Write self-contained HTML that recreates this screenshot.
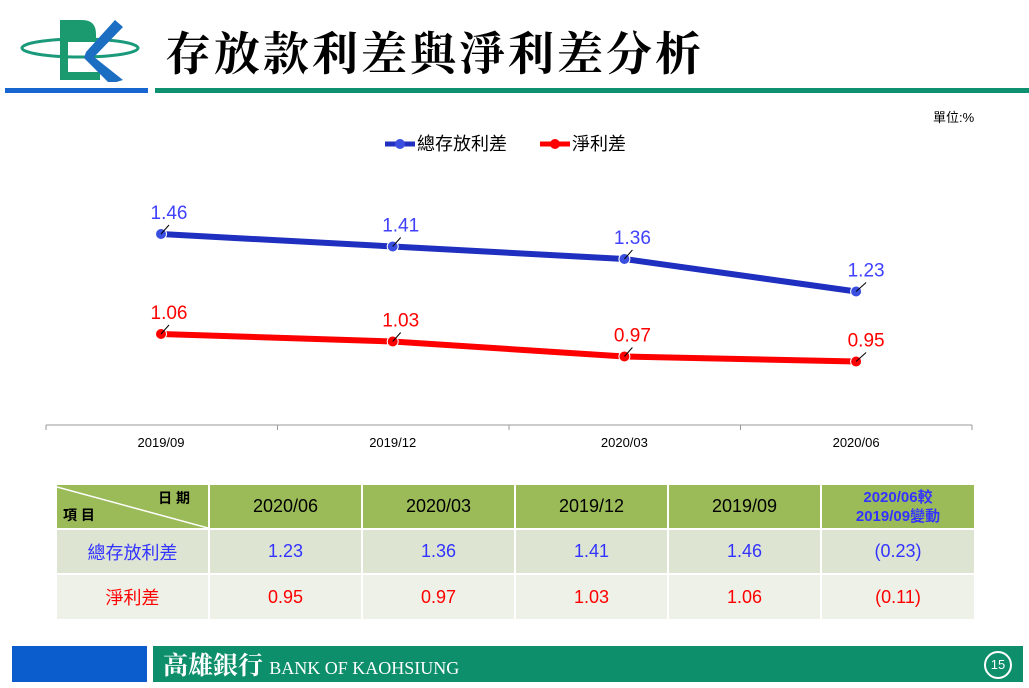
<!DOCTYPE html>
<html><head><meta charset="utf-8"><style>
body{margin:0;width:1029px;height:688px;background:#fff;position:relative;overflow:hidden;font-family:"Liberation Sans","Noto Sans CJK TC",sans-serif}
.abs{position:absolute}
table{position:absolute;left:55px;top:483px;border-collapse:separate;border-spacing:2px}
td{text-align:center;font-size:18px;padding:0}
.h td{background:#9bbb59;color:#000;height:43px}
.r1 td{background:#dde4d2;color:#3333ff;height:43px}
.r2 td{background:#eef1e8;color:#ff0000;height:44px}
</style></head><body>
<div class="abs" style="left:10px;top:12px;width:140px;height:70px">
<svg width="140" height="70"><ellipse cx="70" cy="36" rx="58" ry="9" fill="none" stroke="#1a9a7a" stroke-width="3"/><path d="M50 8 h22 q14 0 14 14 v8 h-28 v25 h-8z" fill="#1a9a6e"/><rect x="50" y="8" width="8" height="60" fill="#1a9a6e"/><rect x="50" y="60" width="40" height="8" fill="#1a9a6e"/><path d="M76 40 L105 8 L113 15 L84 45 L113 68 L100 72 L74 46z" fill="#1b6ec2"/></svg></div>
<div class="abs" style="left:165px;top:18px;font-size:46px;font-family:'Noto Serif CJK SC','Noto Sans CJK TC',serif;font-weight:bold;letter-spacing:3px">存放款利差與淨利差分析</div>
<div class="abs" style="left:5px;top:88px;width:143px;height:5px;background:#1766d0"></div>
<div class="abs" style="left:155px;top:88px;width:874px;height:5px;background:#0f9070"></div>
<div class="abs" style="left:933px;top:107px;font-size:13px">單位:%</div>
<svg class="abs" style="left:0;top:0" width="1029" height="480" id="chart"></svg>
<table>
<tr class="h"><td style="width:151px;position:relative;font-size:14px;font-weight:bold"><svg class="abs" style="left:0;top:0" width="151" height="43"><line x1="0" y1="2" x2="151" y2="43" stroke="#fff" stroke-width="1.5"/></svg><span class="abs" style="right:18px;top:3px">日 期</span><span class="abs" style="left:6px;bottom:3px">項 目</span></td><td style="width:151px">2020/06</td><td style="width:151px">2020/03</td><td style="width:151px">2019/12</td><td style="width:151px">2019/09</td><td style="width:152px;color:#3333ff;font-weight:bold;font-size:15px;line-height:19px">2020/06較<br>2019/09變動</td></tr>
<tr class="r1"><td>總存放利差</td><td>1.23</td><td>1.36</td><td>1.41</td><td>1.46</td><td>(0.23)</td></tr>
<tr class="r2"><td>淨利差</td><td>0.95</td><td>0.97</td><td>1.03</td><td>1.06</td><td>(0.11)</td></tr>
</table>
<div class="abs" style="left:12px;top:646px;width:135px;height:36px;background:#0b5ccc"></div>
<div class="abs" style="left:153px;top:646px;width:870px;height:36px;background:#0d8f6c"></div>
<div class="abs" style="left:163px;top:648px;color:#fff;font-size:25px;line-height:32px;font-family:'Noto Serif CJK SC',serif;font-weight:bold">高雄銀行 <span style="font-family:'Liberation Serif',serif;font-weight:normal;font-size:18px">BANK OF KAOHSIUNG</span></div>
<div class="abs" style="left:984px;top:651px;width:24px;height:24px;border:2px solid #fff;border-radius:50%;color:#fff;font-size:13px;text-align:center;line-height:24px">15</div>
<script>
const categories=["2019/09","2019/12","2020/03","2020/06"];
const grossSpread=[1.46,1.41,1.36,1.23];
const netSpread=[1.06,1.03,0.97,0.95];
const seriesNames=["總存放利差","淨利差"];
const svg=document.getElementById('chart');const NS='http://www.w3.org/2000/svg';
const x=i=>161+i*231.7;const y=v=>234+(1.46-v)*250;
function el(t,a,p){const e=document.createElementNS(NS,t);for(const k in a)e.setAttribute(k,a[k]);(p||svg).appendChild(e);return e;}
const ax=el('line',{x1:46,y1:425,x2:972,y2:425,stroke:'#999'});


for(let i=0;i<=4;i++){el('line',{x1:46+i*231.5,y1:425,x2:46+i*231.5,y2:430,stroke:'#999'});}
categories.forEach((c,i)=>{const t=el('text',{x:x(i),y:447,'text-anchor':'middle','font-size':13});t.textContent=c;

});
[[grossSpread,'#1f2fbf','#4040ff'],[netSpread,'#ff0000','#ff0000']].forEach(([d,c,lc],s)=>{
const pl=el('polyline',{points:d.map((v,i)=>x(i)+','+y(v)).join(' '),fill:'none',stroke:c,'stroke-width':6});


d.forEach((v,i)=>{const p=el('circle',{cx:x(i),cy:y(v),r:5.5,fill:c==='#ff0000'?'#f00':'#3a4ee0',stroke:'#fff','stroke-width':1});


el('line',{x1:x(i),y1:y(v),x2:x(i)+(i===3?10:8),y2:y(v)-9,stroke:'#000'});
const t=el('text',{x:i===3?x(i)+10:x(i)+8,y:y(v)-15,'text-anchor':'middle','font-size':19,fill:lc});t.textContent=v.toFixed(2);

});});
[[385,'#1f2fbf','#3a4ee0',0],[540,'#ff0000','#ff0000',1]].forEach(([lx,c,f,k])=>{
const g=el('g',{});

el('line',{x1:lx,y1:144,x2:lx+30,y2:144,stroke:c,'stroke-width':5},g);el('circle',{cx:lx+15,cy:144,r:5,fill:f},g);
const t=el('text',{x:lx+32,y:150,'font-size':18},g);t.textContent=seriesNames[k];});
</script>
</body></html>
